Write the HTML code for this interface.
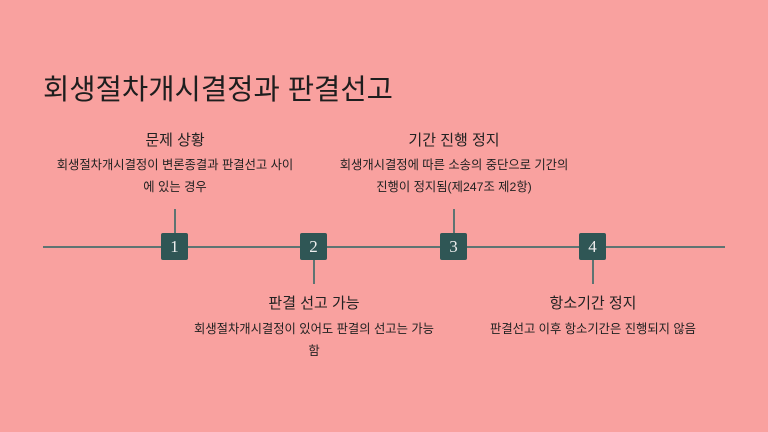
<!DOCTYPE html>
<html><head><meta charset="utf-8"><style>
body{margin:0;width:768px;height:432px;background:#f9a19f;position:relative;overflow:hidden;font-family:"Liberation Sans","Noto Sans CJK KR",sans-serif;color:#222}
.t{position:absolute;left:43px;top:67px;font-size:28.6px;color:#1e1e1e}
.line{position:absolute;left:43px;top:246px;width:682px;height:2px;background:#5e7472}
.v{position:absolute;width:2px;height:24px;background:#5e7472}
.b{position:absolute;width:27px;height:27px;background:#2f5655;border-radius:2px;color:#eee;font-family:"Liberation Serif",serif;font-size:17px;text-align:center;line-height:27px;top:233px}
.h{position:absolute;font-size:15px;text-align:center;width:300px;color:#222}
.d{position:absolute;font-size:12.3px;text-align:center;width:300px;line-height:22px;color:#222;white-space:nowrap}
</style></head><body>
<div class="t">회생절차개시결정과 판결선고</div>
<div class="line"></div>
<div class="v" style="left:174px;top:209px"></div>
<div class="v" style="left:313px;top:260px"></div>
<div class="v" style="left:453px;top:209px"></div>
<div class="v" style="left:592px;top:260px"></div>
<div class="b" style="left:161px">1</div>
<div class="b" style="left:300px">2</div>
<div class="b" style="left:440px">3</div>
<div class="b" style="left:579px">4</div>
<div class="h" style="left:25px;top:129px">문제 상황</div>
<div class="d" style="left:25px;top:154px">회생절차개시결정이 변론종결과 판결선고 사이<br>에 있는 경우</div>
<div class="h" style="left:304px;top:129px">기간 진행 정지</div>
<div class="d" style="left:304px;top:154px">회생개시결정에 따른 소송의 중단으로 기간의<br>진행이 정지됨(제247조 제2항)</div>
<div class="h" style="left:164px;top:292px">판결 선고 가능</div>
<div class="d" style="left:164px;top:318px">회생절차개시결정이 있어도 판결의 선고는 가능<br>함</div>
<div class="h" style="left:443px;top:292px">항소기간 정지</div>
<div class="d" style="left:443px;top:318px">판결선고 이후 항소기간은 진행되지 않음</div>
</body></html>
